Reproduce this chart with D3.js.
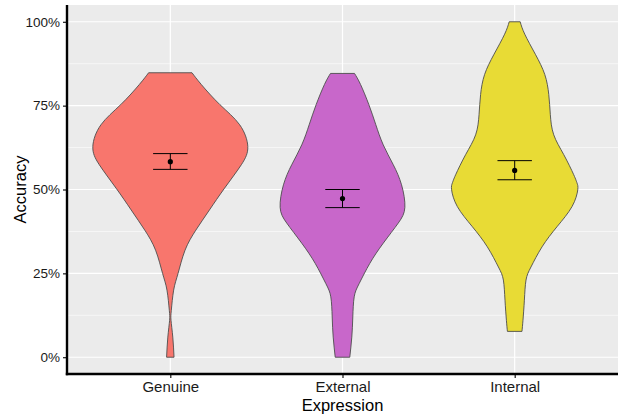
<!DOCTYPE html>
<html>
<head>
<meta charset="utf-8">
<script src="https://cdn.jsdelivr.net/npm/d3@7"></script>
<style>
  body { margin: 0; background: #fff; }
  text { font-family: "Liberation Sans", Arial, sans-serif; }
</style>
</head>
<body>
<div id="chart"></div>
<script>
// data
var categories = ["Genuine", "External", "Internal"];

// violin outlines: [accuracy, relative density]
var genuineViolin = [
  [0.000, 0.048], [0.060, 0.032], [0.110, 0.009], [0.140, 0.013], [0.200, 0.043],
  [0.250, 0.100], [0.319, 0.190], [0.379, 0.330], [0.439, 0.505],
  [0.504, 0.700], [0.574, 0.917], [0.628, 1.000], [0.693, 0.895], [0.753, 0.640],
  [0.813, 0.400], [0.848, 0.280]
];
var externalViolin = [
  [0.000, 0.094], [0.060, 0.120], [0.120, 0.133], [0.180, 0.151], [0.220, 0.216],
  [0.280, 0.353], [0.340, 0.526], [0.400, 0.720], [0.447, 0.805], [0.514, 0.762],
  [0.574, 0.655], [0.633, 0.526], [0.693, 0.430], [0.753, 0.340], [0.813, 0.233],
  [0.846, 0.155]
];
var internalViolin = [
  [0.077, 0.094], [0.110, 0.107], [0.170, 0.125], [0.230, 0.146], [0.269, 0.210],
  [0.329, 0.353], [0.389, 0.546], [0.449, 0.740], [0.499, 0.814], [0.519, 0.805],
  [0.544, 0.762], [0.604, 0.633], [0.663, 0.504], [0.723, 0.460], [0.783, 0.440],
  [0.843, 0.388], [0.903, 0.267], [0.963, 0.130], [1.000, 0.071]
];

var means = [0.583, 0.473, 0.557];
var ciLow = [0.560, 0.446, 0.529];
var ciHigh = [0.607, 0.500, 0.586];

var yTicks = [0, 0.25, 0.5, 0.75, 1];
var yMinor = [0.125, 0.375, 0.625, 0.875];

var fills = ["#f8766d", "#c867ca", "#e8db35"];

var width = 618, height = 416;
var margin = {top: 5, right: 0, bottom: 42, left: 67};

var svg = d3.select("#chart").append("svg")
    .attr("width", width)
    .attr("height", height);

var x = d3.scalePoint()
    .domain(categories)
    .range([margin.left, width - margin.right])
    .padding(0.6);

var y = d3.scaleLinear()
    .domain([-0.05, 1.05])
    .range([height - margin.bottom, margin.top]);

var w = d3.scaleLinear()
    .domain([0, 1])
    .range([0, 0.45 * x.step()]);

// panel background
svg.append("rect")
    .attr("x", margin.left)
    .attr("y", margin.top)
    .attr("width", width - margin.left - margin.right)
    .attr("height", height - margin.top - margin.bottom)
    .attr("fill", "#ebebeb");

// grid
var grid = svg.append("g");
grid.selectAll(".minor").data(yMinor).enter().append("line")
    .attr("x1", margin.left).attr("x2", width - margin.right)
    .attr("y1", function(d) { return y(d); })
    .attr("y2", function(d) { return y(d); })
    .attr("stroke", "#fff").attr("stroke-width", 0.6);
grid.selectAll(".major").data(yTicks).enter().append("line")
    .attr("x1", margin.left).attr("x2", width - margin.right)
    .attr("y1", function(d) { return y(d); })
    .attr("y2", function(d) { return y(d); })
    .attr("stroke", "#fff").attr("stroke-width", 1.2);
grid.selectAll(".vert").data(categories).enter().append("line")
    .attr("x1", function(d) { return x(d); })
    .attr("x2", function(d) { return x(d); })
    .attr("y1", margin.top).attr("y2", height - margin.bottom)
    .attr("stroke", "#fff").attr("stroke-width", 1.2);

// violins
var violins = [genuineViolin, externalViolin, internalViolin];
violins.forEach(function(v, i) {
    var cx = x(categories[i]);
    var area = d3.area()
        .y(function(d) { return y(d[0]); })
        .x0(function(d) { return cx - w(d[1]); })
        .x1(function(d) { return cx + w(d[1]); })
        .curve(d3.curveNatural);
    svg.append("path")
        .attr("d", area(v))
        .attr("fill", fills[i])
        .attr("stroke", "#4d4d4d")
        .attr("stroke-width", 0.9);
});

// error bars and means
var bars = svg.append("g");
var cap = 0.1 * x.step();
categories.forEach(function(c, i) {
    var cx = x(c);
    bars.append("line")
        .attr("x1", cx).attr("x2", cx)
        .attr("y1", y(ciLow[i])).attr("y2", y(ciHigh[i]))
        .attr("stroke", "#000").attr("stroke-width", 1);
    [ciLow[i], ciHigh[i]].forEach(function(v) {
        bars.append("line")
            .attr("x1", cx - cap).attr("x2", cx + cap)
            .attr("y1", y(v)).attr("y2", y(v))
            .attr("stroke", "#000").attr("stroke-width", 1);
    });
    bars.append("circle")
        .attr("cx", cx).attr("cy", y(means[i]))
        .attr("r", 2.6)
        .attr("fill", "#000");
});

// axes
var yAxis = svg.append("g")
    .attr("transform", "translate(" + margin.left + ",0)")
    .call(d3.axisLeft(y).tickValues(yTicks).tickSize(4).tickPadding(3)
        .tickFormat(d3.format(".0%")));
yAxis.select(".domain").remove();
yAxis.selectAll(".tick line").attr("stroke", "#000").attr("stroke-width", 1.1);
yAxis.selectAll(".tick text")
    .attr("font-size", 13.5)
    .attr("fill", "#1a1a1a")
    .attr("font-family", "Liberation Sans, Arial, sans-serif");

var xAxis = svg.append("g")
    .attr("transform", "translate(0," + (height - margin.bottom) + ")")
    .call(d3.axisBottom(x).tickSize(4).tickPadding(3));
xAxis.select(".domain").remove();
xAxis.selectAll(".tick line").attr("stroke", "#000").attr("stroke-width", 1.1);
xAxis.selectAll(".tick text")
    .attr("font-size", 15)
    .attr("fill", "#1a1a1a")
    .attr("font-family", "Liberation Sans, Arial, sans-serif");

// axis lines
svg.append("line")
    .attr("x1", margin.left).attr("x2", margin.left)
    .attr("y1", margin.top).attr("y2", height - margin.bottom + 1.2)
    .attr("stroke", "#000").attr("stroke-width", 2.4);
svg.append("line")
    .attr("x1", margin.left - 1.2).attr("x2", width - margin.right)
    .attr("y1", height - margin.bottom).attr("y2", height - margin.bottom)
    .attr("stroke", "#000").attr("stroke-width", 2.4);

// axis titles
svg.append("text")
    .attr("x", (margin.left + width - margin.right) / 2)
    .attr("y", 411)
    .attr("text-anchor", "middle")
    .attr("font-size", 16.5)
    .attr("fill", "#000")
    .text("Expression");
svg.append("text")
    .attr("transform", "translate(26," + ((margin.top + height - margin.bottom) / 2) + ") rotate(-90)")
    .attr("text-anchor", "middle")
    .attr("font-size", 16.5)
    .attr("fill", "#000")
    .text("Accuracy");
</script>
</body>
</html>
